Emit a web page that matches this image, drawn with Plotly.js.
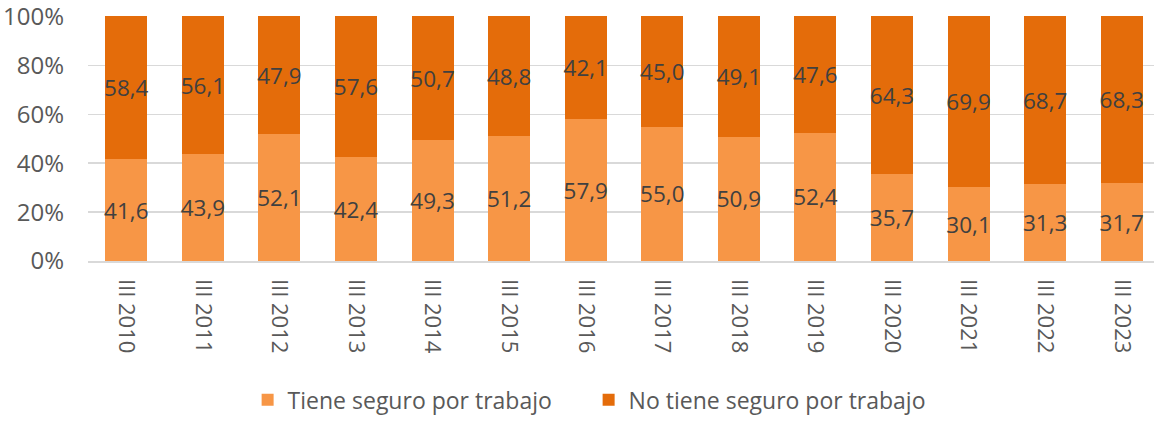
<!DOCTYPE html>
<html>
<head>
<meta charset="utf-8">
<script src="https://cdn.plot.ly/plotly-3.0.1.min.js"></script>
<style>
html,body{margin:0;padding:0;overflow:hidden;background:#fff;}
#chart{width:1160px;height:424px;}
</style>
</head>
<body>
<div id="chart"></div>
<script>
const categories = ["III 2010","III 2011","III 2012","III 2013","III 2014","III 2015","III 2016","III 2017","III 2018","III 2019","III 2020","III 2021","III 2022","III 2023"];
const tieneSeguro = [41.6,43.9,52.1,42.4,49.3,51.2,57.9,55.0,50.9,52.4,35.7,30.1,31.3,31.7];
const noTieneSeguro = [58.4,56.1,47.9,57.6,50.7,48.8,42.1,45.0,49.1,47.6,64.3,69.9,68.7,68.3];
const seriesNames = ["Tiene seguro por trabajo","No tiene seguro por trabajo"];
const yTicks = [0,20,40,60,80,100];

const FONT = "Open Sans, sans-serif";
const labelFont = {family: FONT, size: 22.5, color: "#404040"};

const common = {
  type: "bar",
  x: categories,
  texttemplate: "%{y:.1f}",
  textposition: "inside",
  insidetextanchor: "middle",
  textangle: 0,
  constraintext: "none",
  textfont: labelFont,
  hoverinfo: "skip"
};

const data = [
  Object.assign({}, common, {name: seriesNames[0], y: tieneSeguro, marker: {color: "#F79646", line: {width: 0}}}),
  Object.assign({}, common, {name: seriesNames[1], y: noTieneSeguro, marker: {color: "#E46C0A", line: {width: 0}}})
];

const layout = {
  width: 1160,
  height: 424,
  barmode: "stack",
  bargap: 0.45,
  separators: ",.",
  margin: {l: 88, r: 0, t: 16, b: 163, autoexpand: false},
  paper_bgcolor: "#fff",
  plot_bgcolor: "#fff",
  font: {family: FONT, color: "#595959"},
  xaxis: {
    automargin: false,
    tickangle: 90,
    tickfont: {family: FONT, size: 22, color: "#595959"},
    ticklabelstandoff: 12,
    showline: true,
    linecolor: "#D9D9D9",
    linewidth: 1.5
  },
  yaxis: {
    automargin: false,
    range: [0, 100.2],
    tickvals: yTicks,
    ticktext: yTicks.map(v => v + "%"),
    tickfont: {family: FONT, size: 24, color: "#595959"},
    ticklabelstandoff: 23,
    ticklabeloverflow: "allow",
    showgrid: true,
    gridcolor: "#D9D9D9",
    gridwidth: 1.5,
    zeroline: false,
    fixedrange: true
  },
  legend: {
    orientation: "h",
    traceorder: "normal",
    x: 0.467,
    xanchor: "center",
    y: -0.567,
    yanchor: "middle",
    font: {family: FONT, size: 23, color: "#595959"},
    itemwidth: 30,
    entrywidth: 296,
    entrywidthmode: "pixels",
    tracegroupgap: 0
  },
  showlegend: true
};

Plotly.newPlot("chart", data, layout, {staticPlot: true, displayModeBar: false});
</script>
</body>
</html>
